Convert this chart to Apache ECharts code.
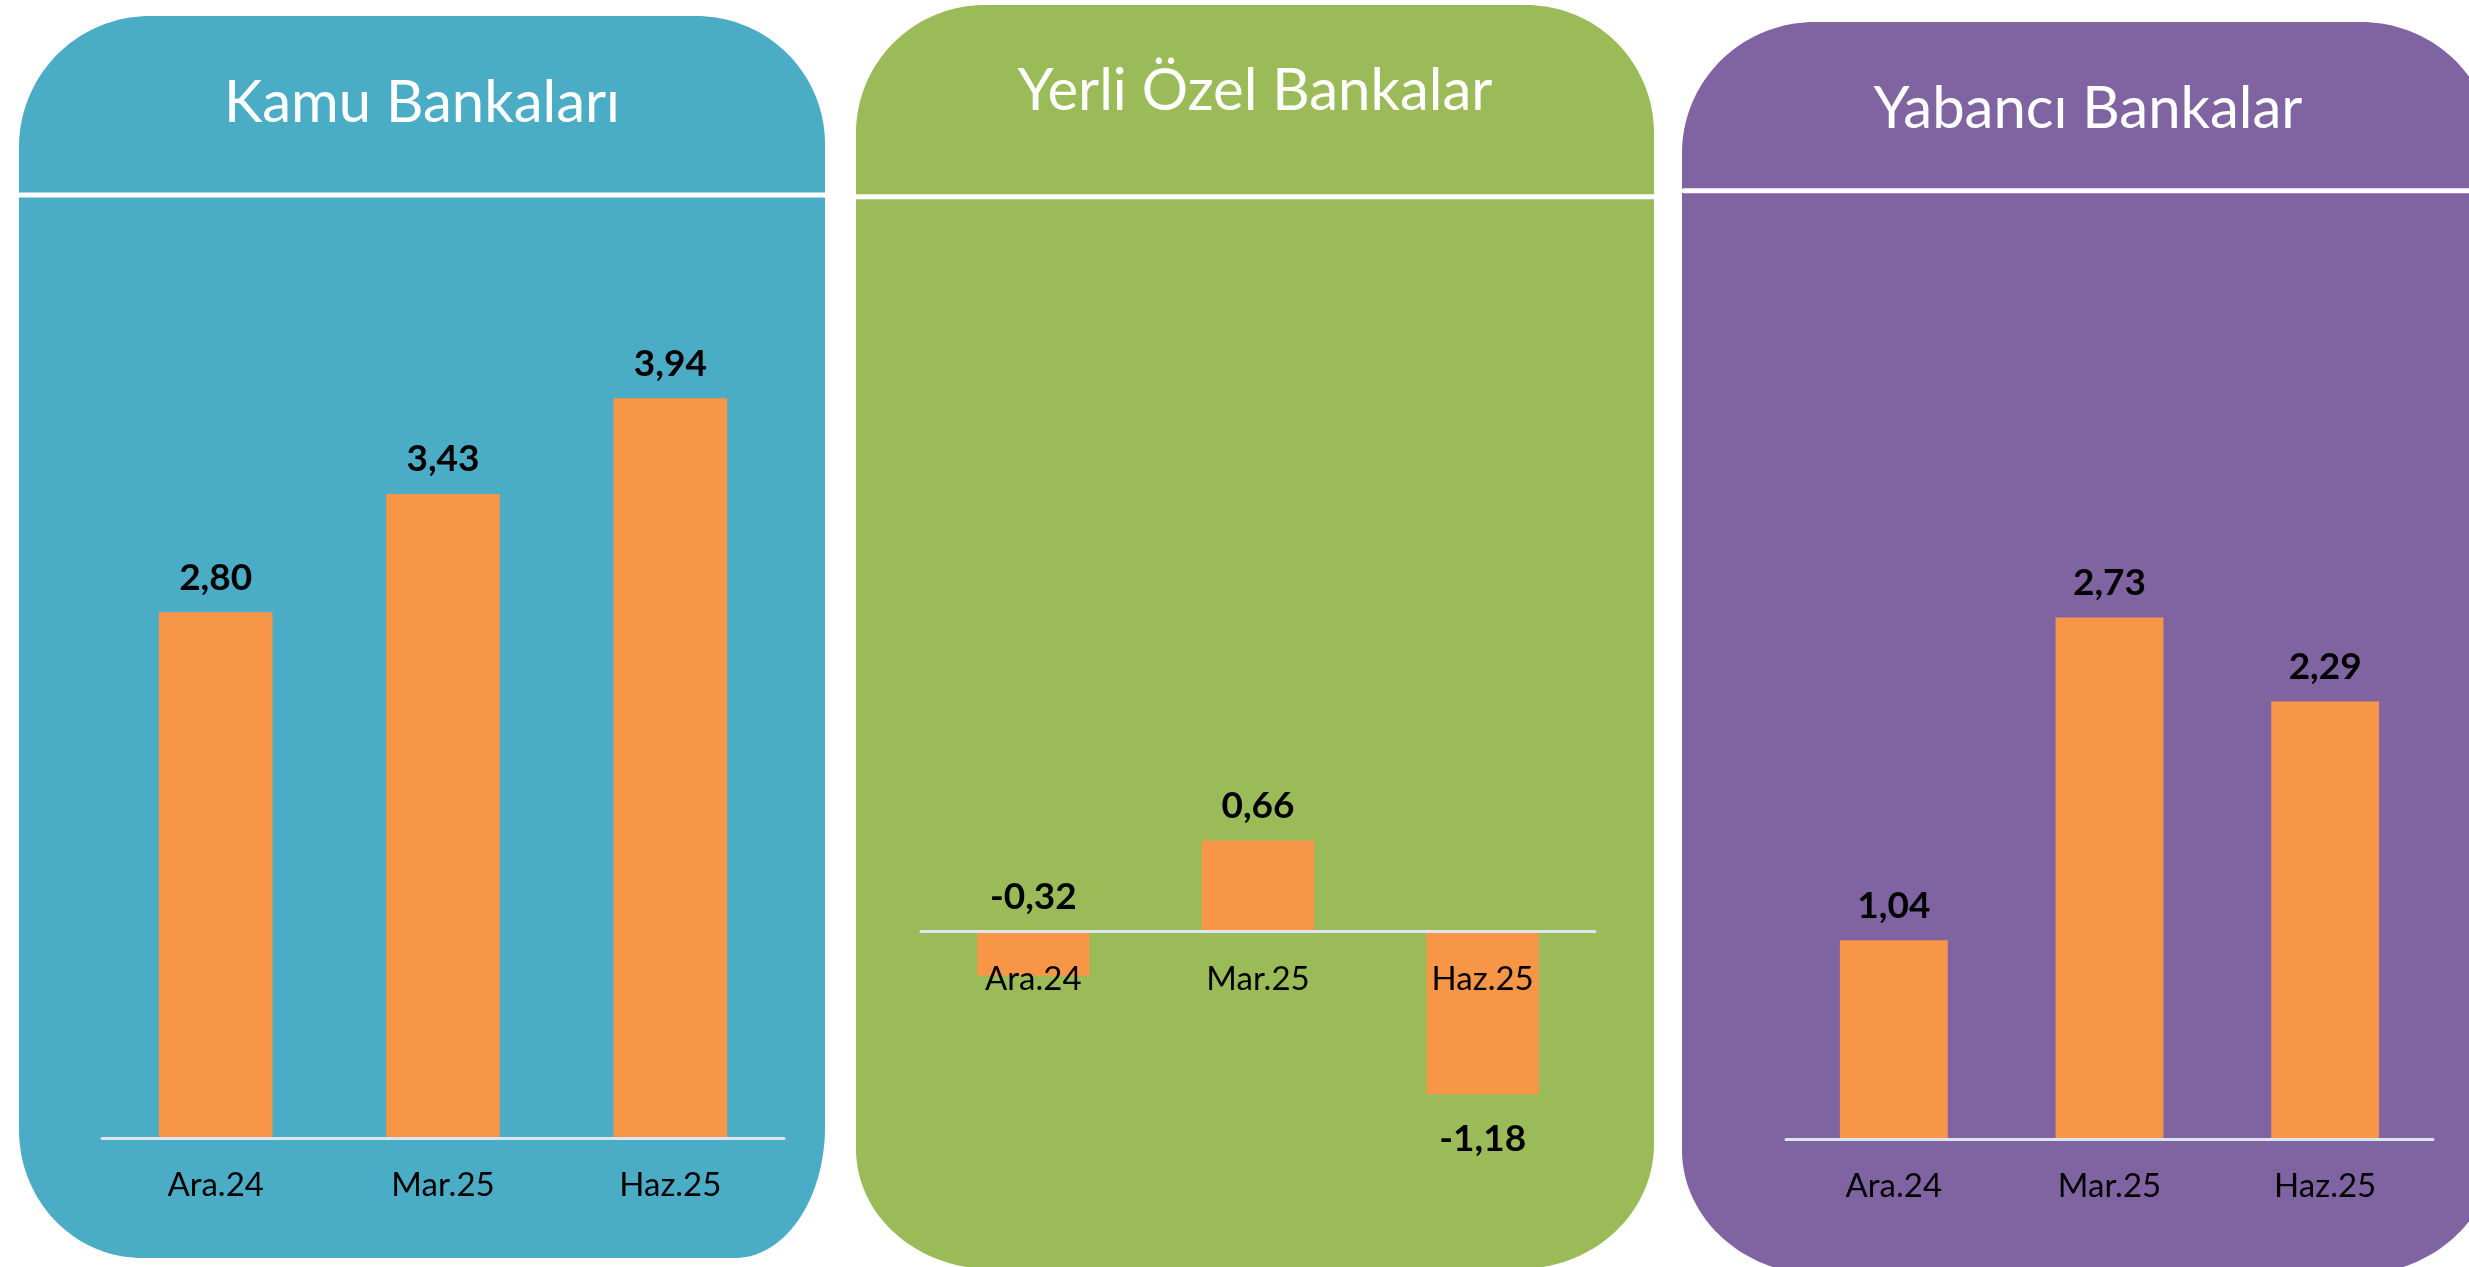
<!DOCTYPE html>
<html>
<head>
<meta charset="utf-8">
<script src="https://cdn.jsdelivr.net/npm/echarts@6/dist/echarts.min.js"></script>
<style>
  html, body { margin: 0; padding: 0; background: #ffffff; }
  #chart { width: 2469px; height: 1267px; }
</style>
</head>
<body>
<div id="chart"></div>
<script>
// ---- Data ----
const categories = ['Ara.24', 'Mar.25', 'Haz.25'];
const panelTitles = ['Kamu Bankaları', 'Yerli Özel Bankalar', 'Yabancı Bankalar'];
const kamuValues = [2.80, 3.43, 3.94];
const yerliOzelValues = [-0.32, 0.66, -1.18];
const yabanciValues = [1.04, 2.73, 2.29];

// ---- Styling / layout ----
const FONT = 'Lato, "Open Sans", sans-serif';
const BAR_COLOR = '#F79646';
const panelColors = ['#4BACC6', '#9BBB59', '#8064A2'];
// panel boxes: x, y, w, h, corners [tl, tr, br, bl] as [rx, ry]
const panels = [
  { x: 19, y: 16, w: 806, h: 1242, c: [[131, 131], [129, 128], [90, 131], [123, 128]], lineY: 195, lineX1: 19, lineX2: 825 },
  { x: 856, y: 5, w: 798, h: 1264, c: [[129, 128], [128, 128], [135, 125], [135, 120]], lineY: 196.7, lineX1: 856, lineX2: 1654 },
  { x: 1682, y: 22, w: 812, h: 1253, c: [[133, 131], [133, 131], [140, 125], [140, 125]], lineY: 190.8, lineX1: 1684, lineX2: 2469 }
];
const titleCenters = [[422, 103], [1255, 91], [2088, 109]];
const grids = [
  { left: 102, width: 682, top: 387, height: 751 },
  { left: 921, width: 674, top: 793.5, height: 414 },
  { left: 1786, width: 647, top: 566, height: 573 }
];
const yRanges = [[0, 4], [-2, 1], [0, 3]];
const belowLabel = [[false, false, false], [false, false, true], [false, false, false]];
const LABEL_GAP = 31; // gap between the zero line and the category labels

// rounded box outline sampled as polygon (elliptical corners)
function roundedPoints(p) {
  const x0 = p.x, y0 = p.y, x1 = p.x + p.w, y1 = p.y + p.h;
  const [tl, tr, br, bl] = p.c;
  const pts = [];
  const N = 40;
  function arc(cx, cy, rx, ry, a0, a1) {
    for (let s = 0; s <= N; s++) {
      const a = a0 + (a1 - a0) * s / N;
      pts.push([cx + rx * Math.cos(a), cy + ry * Math.sin(a)]);
    }
  }
  arc(x0 + tl[0], y0 + tl[1], tl[0], tl[1], Math.PI, 1.5 * Math.PI);
  arc(x1 - tr[0], y0 + tr[1], tr[0], tr[1], 1.5 * Math.PI, 2 * Math.PI);
  arc(x1 - br[0], y1 - br[1], br[0], br[1], 0, 0.5 * Math.PI);
  arc(x0 + bl[0], y1 - bl[1], bl[0], bl[1], 0.5 * Math.PI, Math.PI);
  return pts;
}

const graphics = [];
panels.forEach((p, i) => {
  graphics.push({
    type: 'polygon', z: -10, silent: true,
    shape: { points: roundedPoints(p) },
    style: { fill: panelColors[i] }
  });
  graphics.push({
    type: 'line', z: -9, silent: true,
    shape: { x1: p.lineX1, y1: p.lineY, x2: p.lineX2, y2: p.lineY },
    style: { stroke: '#ffffff', lineWidth: 5, lineCap: i === 2 ? 'round' : 'butt' }
  });
});

const fmt = v => v.toFixed(2).replace('.', ',');
const seriesValues = [kamuValues, yerliOzelValues, yabanciValues];

// distance (px) from the grid's bottom edge up to its zero line
function zeroOffset(i) {
  const [mn, mx] = yRanges[i];
  return grids[i].height * (0 - mn) / (mx - mn);
}

const option = {
  backgroundColor: '#ffffff',
  animation: false,
  title: panelTitles.map((t, i) => ({
    text: t,
    left: titleCenters[i][0],
    top: titleCenters[i][1],
    textAlign: 'center',
    textVerticalAlign: 'middle',
    padding: 0,
    textStyle: { color: '#ffffff', fontFamily: FONT, fontSize: 58, fontWeight: 'normal' }
  })),
  graphic: { elements: graphics },
  grid: grids.map(g => Object.assign({ containLabel: false }, g)),
  xAxis: grids.map((g, i) => ({
    type: 'category',
    gridIndex: i,
    data: categories,
    z: 5,
    axisLine: { show: true, onZero: true, lineStyle: { color: '#dde5f1', width: 3 } },
    axisTick: { show: false },
    splitLine: { show: false },
    axisLabel: { margin: LABEL_GAP - zeroOffset(i), fontFamily: FONT, fontSize: 33, color: '#000000' }
  })),
  yAxis: grids.map((g, i) => ({
    type: 'value',
    gridIndex: i,
    min: yRanges[i][0],
    max: yRanges[i][1],
    show: false,
    splitLine: { show: false }
  })),
  series: seriesValues.map((vals, i) => ({
    type: 'bar',
    xAxisIndex: i,
    yAxisIndex: i,
    barWidth: '50%',
    itemStyle: { color: BAR_COLOR },
    data: vals.map((v, j) => ({
      value: v,
      label: belowLabel[i][j] ? { position: 'bottom', distance: 26 } : { position: 'top', distance: 16 }
    })),
    label: {
      show: true,
      fontFamily: FONT,
      fontSize: 37,
      fontWeight: 'bold',
      color: '#000000',
      formatter: p => fmt(p.value)
    }
  }))
};

const chart = echarts.init(document.getElementById('chart'), null, { renderer: 'canvas' });
chart.setOption(option);
</script>
</body>
</html>
